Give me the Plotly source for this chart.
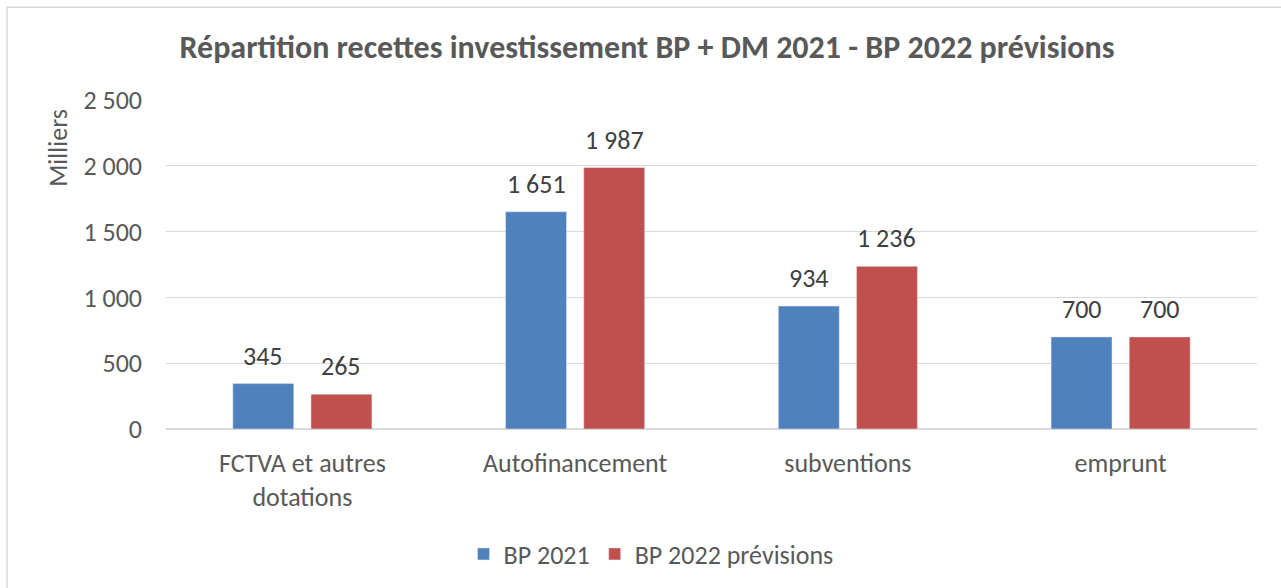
import plotly.graph_objects as go

categories = ["FCTVA et autres<br>dotations", "Autofinancement", "subventions", "emprunt"]
bp2021 = [345, 1651, 934, 700]
bp2022 = [265, 1987, 1236, 700]
series_names = ["BP 2021", "BP 2022 prévisions"]
tick_vals = [0, 500, 1000, 1500, 2000, 2500]

FONT = "Carlito, Calibri, Lato, sans-serif"
GRAY = "#595959"
BLUE = "#4F81BD"
RED = "#C0504D"

L, R, T, B = 166, 24, 100, 158
W, H = 1281, 588
pw = W - L - R
ph = H - T - B

fig = go.Figure()
fig.add_trace(go.Bar(x=categories, y=bp2021, name=series_names[0], marker_color=BLUE))
fig.add_trace(go.Bar(x=categories, y=bp2022, name=series_names[1], marker_color=RED))

# data labels
for vals, shift in ((bp2021, -39), (bp2022, 39)):
    for c, v in zip(categories, vals):
        fig.add_annotation(x=c, y=v, xref="x", yref="y", text=f"{v:,}".replace(",", " "),
                           showarrow=False, xshift=shift, yanchor="bottom", yshift=10,
                           font=dict(family=FONT, size=26, color="#404040"))

fig.add_annotation(text="Milliers", xref="paper", yref="paper",
                   x=(58 - L) / pw, y=(H - B - 148) / ph, textangle=-90,
                   xanchor="center", yanchor="middle",
                   showarrow=False, font=dict(family=FONT, size=26, color=GRAY))

fig.add_shape(type="rect", xref="paper", yref="paper",
              x0=(7 - L) / pw, x1=(1295 - L) / pw,
              y0=(H - B - 610) / ph, y1=(H - B - 7) / ph,
              line=dict(color="#D9D9D9", width=1.5), layer="below")

fig.update_layout(
    width=W, height=H,
    margin=dict(l=L, r=R, t=T, b=B),
    paper_bgcolor="white", plot_bgcolor="white",
    separators=", ",
    barmode="group", bargap=0.427, bargroupgap=0.22,
    title=dict(text="<b>Répartition recettes investissement BP + DM 2021 - BP 2022 prévisions</b>",
               x=647 / W, xref="container", xanchor="center",
               y=1 - 47 / H, yref="container", yanchor="middle",
               font=dict(family=FONT, size=32, color=GRAY)),
    font=dict(family=FONT, size=26, color=GRAY),
    legend=dict(orientation="h", x=(651 - L) / pw, xanchor="center",
                y=(H - B - 554) / ph, yanchor="middle",
                font=dict(family=FONT, size=26, color=GRAY), itemwidth=30),
    showlegend=True,
)
fig.update_yaxes(range=[0, 2500], tickvals=tick_vals, tickformat=",d",
                 showgrid=True, gridcolor="#D9D9D9", gridwidth=1.3,
                 zeroline=True, zerolinecolor="#D9D9D9", zerolinewidth=1.5,
                 showline=False, ticklabelstandoff=23,
                 tickfont=dict(family=FONT, size=26, color=GRAY))
fig.update_xaxes(showline=False, ticks="", ticklabelstandoff=16,
                 tickfont=dict(family=FONT, size=26, color=GRAY))

fig.write_html("out.html")
